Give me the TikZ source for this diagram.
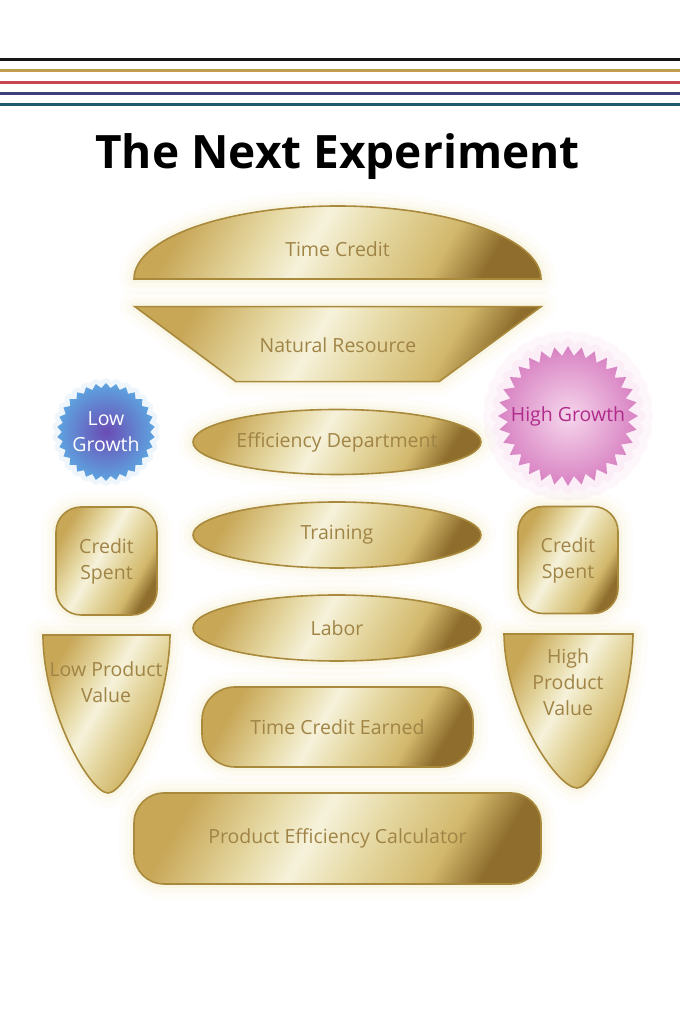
\documentclass[tikz,border=0pt]{standalone}
\usepackage{fontspec}
\setmainfont{Open Sans}
\usetikzlibrary{shapes.geometric}
\definecolor{lineblack}{HTML}{151515}
\definecolor{linegold}{HTML}{BE9E4E}
\definecolor{linered}{HTML}{C9464E}
\definecolor{lineblue}{HTML}{3B3D7C}
\definecolor{lineteal}{HTML}{1D5A6E}
\definecolor{goldA}{HTML}{C8A757}
\definecolor{goldB}{HTML}{E6D9A4}
\definecolor{goldC}{HTML}{F6F2DB}
\definecolor{goldE}{HTML}{D2B86C}
\definecolor{goldD}{HTML}{8F6E2D}
\definecolor{goldline}{HTML}{A98A3C}
\definecolor{goldtxt}{HTML}{A08446}
\definecolor{glowc}{HTML}{F0DC9A}
\definecolor{glowpink}{HTML}{F2B8E0}
\definecolor{lowin}{HTML}{6A4CB4}
\definecolor{lowout}{HTML}{5EA4E0}
\definecolor{highin}{HTML}{F6D6EC}
\definecolor{highout}{HTML}{D882C2}
\definecolor{hightxt}{HTML}{B02C8C}
\pgfdeclarehorizontalshading{goldmetal}{100bp}{color(0bp)=(goldA); color(25bp)=(goldA); color(38bp)=(goldB); color(46bp)=(goldC); color(55bp)=(goldB); color(67bp)=(goldE); color(75bp)=(goldD); color(100bp)=(goldD)}
\tikzset{
  goldshape/.style={draw=goldline, line width=1.6pt, shading=goldmetal, shading angle=-30,
    preaction={draw=glowc, line width=30pt, draw opacity=0.05, line join=round},
    preaction={draw=glowc, line width=18pt, draw opacity=0.08, line join=round},
    preaction={draw=glowc, line width=8pt, draw opacity=0.12, line join=round}},
  goldtext/.style={text=goldtxt, font=\fontsize{19.5}{26}\selectfont, align=center, inner sep=0pt},
  burst/.style={star, star points=#1, inner sep=0pt, draw=none},
}
\begin{document}
\begin{tikzpicture}[x=1pt, y=1pt]
            \useasboundingbox[fill=white] (0,0) rectangle (680,1020);
            \draw[lineblack, line width=3pt] (0,960.7) -- (680,960.7);
            \draw[linegold, line width=3pt] (0,949.3) -- (680,949.3);
            \draw[linered, line width=3pt] (0,937.7) -- (680,937.7);
            \draw[lineblue, line width=3pt] (0,926.7) -- (680,926.7);
            \draw[lineteal, line width=3pt] (0,915.7) -- (680,915.7);

            \node[font=\fontsize{46}{50}\selectfont\bfseries, anchor=base] (title) at (337.5,851.7) {The Next Experiment};

            \draw[goldshape] (134,741) arc[start angle=180, end angle=0, x radius=203.5, y radius=73] -- cycle;
            \node[goldtext] (timecredit) at (337.5,771) {Time Credit};

            \draw[goldshape] (135,713.3) -- (541,713.3) -- (439,638.3) -- (236,638.3) -- cycle;
            \node[goldtext] (natres) at (338,675) {Natural Resource};

            \node[goldshape, goldtext, ellipse, minimum width=288pt, minimum height=65pt] (effdept) at (337,578) {Efficiency Department};
            \node[goldshape, goldtext, ellipse, minimum width=288pt, minimum height=66pt] (training) at (337,485) {Training};
            \node[goldshape, goldtext, ellipse, minimum width=288pt, minimum height=66pt] (labor) at (337,392) {Labor};

            \node[goldshape, goldtext, rectangle, rounded corners=33pt, minimum width=271pt, minimum height=80pt] (tcearned) at (337.5,293) {Time Credit Earned};
            \node[goldshape, goldtext, rectangle, rounded corners=30pt, minimum width=407pt, minimum height=91pt] (pecalc) at (337.5,181.5) {Product Efficiency Calculator};

            \node[burst=30, star point ratio=1.11, minimum size=98pt, inner color=lowin, outer color=lowout,
                  preaction={draw=lowout, line width=10pt, draw opacity=0.10, line join=round}] (lowstar) at (106,588) {};
            \node[goldtext, text=white] (lowgrowth) at (lowstar.center) {Low\\Growth};

            \node[burst=32, star point ratio=1.16, minimum size=140pt, inner color=highin, outer color=highout,
                  preaction={draw=glowpink, line width=30pt, draw opacity=0.10, line join=round},
                  preaction={draw=glowpink, line width=14pt, draw opacity=0.14, line join=round}] (highstar) at (568,604) {};
            \node[goldtext, text=hightxt] (highgrowth) at (highstar.center) {High Growth};

            \node[goldshape, goldtext, rectangle, rounded corners=25pt, minimum width=101pt, minimum height=108pt] (spentlow) at (106.5,459) {Credit\\Spent};
            \node[goldshape, goldtext, rectangle, rounded corners=25pt, minimum width=100pt, minimum height=107pt] (spenthigh) at (568,460) {Credit\\Spent};

            \draw[goldshape] (43,385) -- (170,385) .. controls (169,310) and (126,227) .. (108,227) .. controls (90,227) and (43,310) .. (43,385) -- cycle;
            \node[goldtext] (lowvalue) at (106,338) {Low Product\\Value};

            \draw[goldshape] (504,386) -- (633,386) .. controls (632,310) and (595,232) .. (577,232) .. controls (557,232) and (505,310) .. (504,386) -- cycle;
            \node[goldtext] (highvalue) at (568,338) {High\\Product\\Value};
\end{tikzpicture}
\end{document}
